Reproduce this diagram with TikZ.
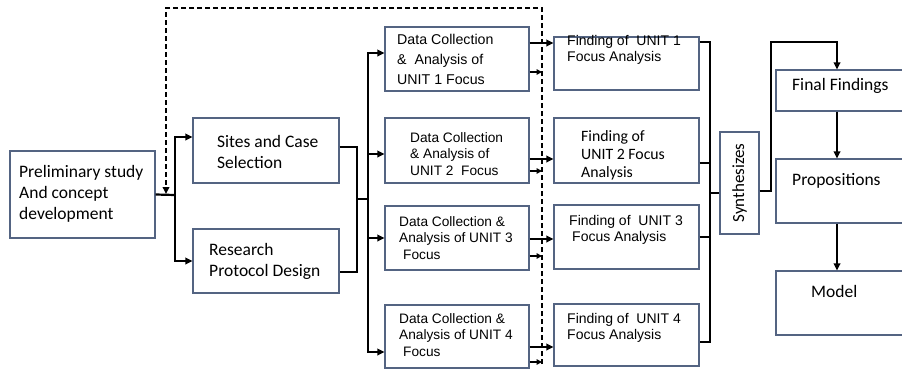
\documentclass[tikz,border=0pt]{standalone}
\usepackage{fontspec}
\setmainfont{Carlito}
\newfontfamily\arialfont{Liberation Sans}
\usetikzlibrary{arrows.meta,fit,positioning}

\definecolor{boxline}{RGB}{84,100,130}

\tikzset{
  stage/.style = {draw=boxline, line width=1.1pt, inner sep=0pt},
  txt/.style = {align=left, inner sep=0pt, anchor=west},
  big/.style = {font=\fontsize{17.5}{21}\selectfont},
  unitone/.style = {font=\arialfont\fontsize{14.2}{20}\selectfont},
  unit/.style = {font=\arialfont\fontsize{13.7}{16.7}\selectfont},
  find/.style = {font=\arialfont\fontsize{14}{15.8}\selectfont},
  findtwo/.style = {font=\fontsize{15.8}{18}\selectfont},
  line/.style = {line width=2.2pt},
  arr/.style = {line width=2.2pt, -{Triangle[length=7pt,width=6.5pt]}},
  backline/.style = {line width=2.2pt, dash pattern=on 5pt off 3pt, -{Triangle[length=7pt,width=6.5pt]}},
  backtip/.style = {line width=2.2pt, -{Triangle[length=5.5pt,width=5.5pt]}}
}

\begin{document}
\begin{tikzpicture}[x=1pt, y=-1pt]
  \useasboundingbox[fill=white] (0,0) rectangle (902,370);

  % boxes
  \node[stage, fit={(10,151) (155,238)}] (pre) {};
  \node[stage, fit={(193,118) (339,183)}] (sites) {};
  \node[stage, fit={(193,229) (339,293)}] (proto) {};
  \foreach \n/\t/\b in {1/27/91, 2/118/183, 3/206/270, 4/305/368}
    \node[stage, fit={(385,\t) (529,\b)}] (d\n) {};
  \foreach \n/\t/\b in {1/37/90, 2/118/183, 3/205/269, 4/304/366}
    \node[stage, fit={(554,\t) (699,\b)}] (f\n) {};
  \node[stage, fit={(720,132) (759,234)}] (syn) {};
  \node[stage, fit={(776,70) (906,111)}] (final) {};
  \node[stage, fit={(776,159) (906,223)}] (props) {};
  \node[stage, fit={(776,271) (906,335)}] (model) {};

  % texts
  \node[txt, big] (pre-t) at (19,194) {Preliminary study\\And concept\\development};
  \node[txt, big] (sites-t) at (217,151.5) {Sites and Case\\Selection};
  \node[txt, big] (proto-t) at (209,261.5) {Research\\Protocol Design};
  \node[txt, unitone] (d1-t) at (397,59) {Data Collection\\\&\ \ Analysis of\\UNIT 1 Focus};
  \node[txt, unit] (d2-t) at (410,154) {Data Collection\\\& Analysis of\\UNIT 2\ \ Focus};
  \node[txt, unit] (d3-t) at (399,238) {Data Collection \&\\Analysis of UNIT 3\\\hspace*{4pt}Focus};
  \node[txt, unit] (d4-t) at (399,335) {Data Collection \&\\Analysis of UNIT 4\\\hspace*{4pt}Focus};
  \node[txt, find] (f1-t) at (567,49.5) {Finding of\ \ UNIT 1\\Focus Analysis};
  \node[txt, findtwo] (f2-t) at (581,155) {Finding of\\UNIT 2 Focus\\Analysis};
  \node[txt, find] (f3-t) at (569,230) {Finding of\ \ UNIT 3\\\hspace*{3pt}Focus Analysis};
  \node[txt, find] (f4-t) at (567,328) {Finding of\ \ UNIT 4\\Focus Analysis};
  \node[big, rotate=90, inner sep=0pt, font=\fontsize{17}{20}\selectfont] (syn-t) at (syn.center) {Synthesizes};
  \node[txt, big] (final-t) at (792,86) {Final Findings};
  \node[txt, big] (props-t) at (792,181) {Propositions};
  \node[txt, big] (model-t) at (811,291) {Model};

  % junctions
  \coordinate (j1) at (175,195);
  \coordinate (j2) at (357,199);
  \coordinate (j3) at (368,199);
  \coordinate (fb-bot) at (542,364);
  \coordinate (fb-top) at (542,8);
  \coordinate (fb-end) at (166,194);
  \coordinate (b-bot) at (710,342);
  \coordinate (b-mid) at (710,193);
  \coordinate (s-turn) at (771,42);

  % preliminary study to sites and protocol
  \draw[line] (pre.east) -- (j1);
  \draw[arr] (j1) |- ([yshift=13.5pt]sites.west);
  \draw[arr] (j1) |- (proto.west);

  % into the data collection units
  \draw[line] ([yshift=3.5pt]sites.east) -| (j2) |- ([yshift=-11pt]proto.east);
  \draw[line] (j2) -- (j3);
  \draw[arr] (j3) |- ([yshift=6pt]d1.west);
  \draw[arr] (j3) |- ([yshift=-3.5pt]d2.west);
  \draw[arr] (j3) |- (d3.west);
  \draw[arr] (j3) |- ([yshift=-15.5pt]d4.west);

  % feedback loop
  \draw[backline] (fb-bot) -- (fb-top) -| (fb-end);
  \foreach \n/\s in {1/-13, 2/-20.5, 3/-18, 4/-25.5}
    \draw[backtip] ([yshift=\s pt]d\n.east) -- ([yshift=\s pt]d\n.east -| fb-bot);

  % units to findings
  \foreach \n/\s in {1/16, 2/-8.5, 3/-1, 4/-10.5}
    \draw[arr] ([yshift=\s pt]d\n.east) -- ([yshift=\s pt]d\n.east -| f1.west);

  % bracket to synthesizes
  \draw[line] ([yshift=21.5pt]f1.east) -| (b-bot) -- (b-bot -| f4.east);
  \draw[line] ([yshift=-12.5pt]f2.east) -- ([yshift=-12.5pt]f2.east -| b-bot);
  \draw[line] (f3.east) -- (f3.east -| b-bot);
  \draw[line] (b-mid) -- (b-mid -| syn.west);

  % synthesizes to final findings, propositions, model
  \draw[arr] ([yshift=-8pt]syn.east) -| (s-turn) -| ([xshift=-4pt]final.north);
  \draw[arr] ([xshift=-4pt]final.south) -- ([xshift=-4pt]props.north);
  \draw[arr] ([xshift=-4pt]props.south) -- ([xshift=-4pt]model.north);
\end{tikzpicture}
\end{document}
